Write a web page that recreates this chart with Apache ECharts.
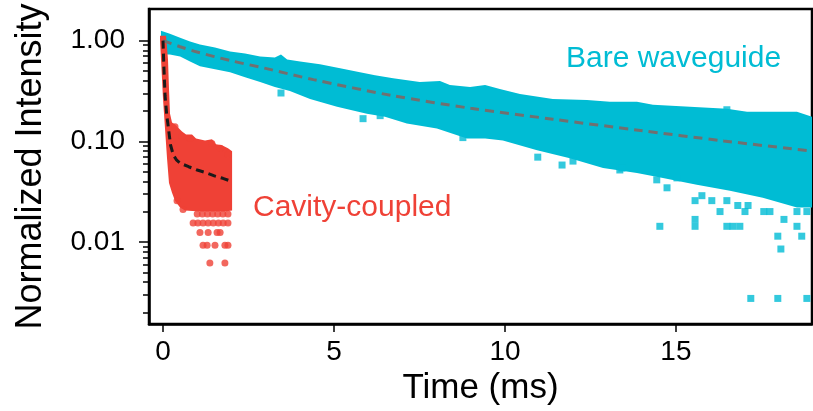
<!DOCTYPE html>
<html>
<head>
<meta charset="utf-8">
<script src="https://cdn.jsdelivr.net/npm/echarts@6/dist/echarts.min.js"></script>
<style>
  html, body { margin: 0; padding: 0; background: #fff; }
  #chart { width: 813px; height: 411px; }
</style>
</head>
<body>
<div id="chart"></div>
<script>
// time in ms, intensity normalized
const xTicks = [0, 5, 10, 15];
const yTicks = [0.01, 0.1, 1];
const yMinorTicks = [0.002, 0.003, 0.004, 0.005, 0.006, 0.007, 0.008, 0.009,
  0.02, 0.03, 0.04, 0.05, 0.06, 0.07, 0.08, 0.09,
  0.2, 0.3, 0.4, 0.5, 0.6, 0.7, 0.8, 0.9];

// bare waveguide: outline of the dense cloud of points
const bareUpper = [[-0.06, 1.25], [0.2, 1.17], [0.5, 1.07], [0.79, 0.978], [1.08, 0.914], [1.52, 0.854],
  [1.96, 0.78], [2.4, 0.746], [2.84, 0.697], [3.27, 0.681], [3.45, 0.729], [3.63, 0.651], [4.01, 0.622],
  [4.59, 0.582], [5.18, 0.531], [5.76, 0.486], [6.2, 0.454], [6.73, 0.424], [7.51, 0.388], [8.1, 0.397],
  [8.39, 0.362], [8.98, 0.346], [9.42, 0.362], [9.85, 0.331], [10.44, 0.296], [11.4, 0.264], [12.4, 0.258],
  [13.07, 0.247], [13.86, 0.247], [14.33, 0.231], [15.41, 0.22], [16.49, 0.211], [17.08, 0.197],
  [18.54, 0.197], [18.98, 0.176]];
const bareLower = [[-0.06, 0.729], [0.2, 0.729], [0.5, 0.697], [0.79, 0.622], [1.08, 0.556], [1.52, 0.52],
  [1.96, 0.486], [2.4, 0.434], [2.84, 0.388], [3.27, 0.346], [3.71, 0.316], [4.3, 0.264], [5.09, 0.22],
  [5.96, 0.188], [6.49, 0.176], [7.13, 0.15], [8.01, 0.134], [8.89, 0.107], [9.42, 0.107], [9.94, 0.102],
  [10.94, 0.0816], [11.9, 0.0681], [12.87, 0.0543], [13.86, 0.0486], [14.62, 0.0434], [15.61, 0.037],
  [16.58, 0.0323], [17.54, 0.0276], [18.54, 0.022], [18.98, 0.022]];
// bare waveguide: isolated points
const bareOutliers = [[3.45, 0.302], [5.85, 0.168], [6.35, 0.18], [8.77, 0.109], [10.96, 0.0697],
  [11.67, 0.0582], [11.99, 0.0637], [13.36, 0.052], [13.42, 0.0543], [14.44, 0.0415], [15.03, 0.0434],
  [14.53, 0.01435], [14.74, 0.0346], [15.56, 0.01435], [15.56, 0.0168], [15.56, 0.0258], [15.76, 0.0289],
  [16.05, 0.0258], [16.29, 0.0201], [16.49, 0.01435], [16.67, 0.01435], [16.87, 0.01435], [16.49, 0.0258],
  [17.02, 0.0201], [16.81, 0.0231], [17.11, 0.0231], [17.98, 0.01145], [18.07, 0.00854], [18.68, 0.01145],
  [18.54, 0.01435], [18.16, 0.0168], [17.57, 0.0201], [17.75, 0.0201], [18.54, 0.0201], [18.83, 0.0201],
  [17.19, 0.00276], [17.98, 0.00276], [18.83, 0.00276], [16.49, 0.206]];
const bareFit = [[0, 1.0], [0.5, 0.87], [1, 0.77], [2, 0.63], [3, 0.53], [4.4, 0.41], [6.7, 0.285],
  [9, 0.213], [11.4, 0.166], [13.9, 0.129], [16.4, 0.101], [18.98, 0.08]];

// cavity-coupled: outline of the dense cloud of points
const cavityOutline = [[-0.088, 1.12], [0.088, 1.12], [0.146, 0.651], [0.175, 0.331], [0.205, 0.188],
  [0.263, 0.154], [0.351, 0.147], [0.556, 0.125], [0.673, 0.117], [0.848, 0.117], [0.965, 0.107],
  [1.228, 0.102], [1.433, 0.105], [1.55, 0.0935], [1.725, 0.0914], [1.9, 0.0853], [2.02, 0.0798],
  [2.02, 0.0206], [1.81, 0.0201], [1.08, 0.0201], [0.643, 0.0206], [0.497, 0.022], [0.351, 0.0258],
  [0.263, 0.0309], [0.175, 0.0387], [0.117, 0.0681], [0.058, 0.134], [0, 0.264], [-0.058, 0.651],
  [-0.088, 1.02]];
const cavityPoints = [[0.35, 0.14], [0.556, 0.112], [0.79, 0.107], [1.43, 0.0955], [1.67, 0.0853],
  [1.9, 0.0746], [0.41, 0.0258], [0.585, 0.0211],
  [1.0, 0.019], [1.15, 0.019], [1.3, 0.019], [1.45, 0.019], [1.6, 0.019], [1.75, 0.019], [1.9, 0.019],
  [0.88, 0.0155], [1.02, 0.0155], [1.17, 0.0155], [1.32, 0.0155], [1.47, 0.0155], [1.62, 0.0155],
  [1.76, 0.0155], [1.9, 0.0155],
  [1.08, 0.01245], [1.32, 0.01245], [1.58, 0.01245], [1.67, 0.01245],
  [1.17, 0.00929], [1.29, 0.00929], [1.52, 0.00929], [1.81, 0.00929], [1.9, 0.00929],
  [1.37, 0.00622], [1.81, 0.00622]];
const cavityFit = [[0, 1.0], [0.02, 0.61], [0.04, 0.415], [0.06, 0.284], [0.11, 0.181], [0.16, 0.134],
  [0.22, 0.092], [0.3, 0.0734], [0.4, 0.065], [0.5, 0.0608], [0.75, 0.056], [1.0, 0.052], [1.25, 0.049],
  [1.5, 0.0454], [1.75, 0.043], [1.96, 0.0405]];

const CYAN = '#00bcd4';
const RED = '#ef4136';
const FONT = 'Liberation Sans, Arial, sans-serif';

const lg = (arr) => arr.map(p => [p[0], Math.log10(p[1])]);

const polygonSeries = (pts, color) => {
  const data = lg(pts);
  return {
    type: 'custom',
    silent: true,
    clip: true,
    data: data,
    renderItem: (params, api) => {
      if (params.dataIndex !== 0) return null;
      return {
        type: 'polygon',
        shape: { points: data.map(p => api.coord(p)) },
        style: { fill: color }
      };
    }
  };
};

const chart = echarts.init(document.getElementById('chart'));

const yExtent = [Math.log10(0.001535), Math.log10(2.06)];

chart.setOption({
  animation: false,
  backgroundColor: '#fff',
  grid: {
    left: 149, right: 1, top: 9, bottom: 83,
    show: true, borderColor: '#000', borderWidth: 2.5
  },
  xAxis: {
    type: 'value',
    min: -0.41,
    max: 18.98,
    name: 'Time (ms)',
    nameLocation: 'middle',
    nameGap: 46,
    nameTextStyle: { fontFamily: FONT, fontSize: 35, color: '#000' },
    axisLine: { onZero: false, lineStyle: { color: '#000', width: 2.5 } },
    axisTick: { customValues: xTicks, length: 8, lineStyle: { color: '#000', width: 1.5 } },
    axisLabel: { customValues: xTicks, margin: 14, fontFamily: FONT, fontSize: 28, color: '#000' },
    splitLine: { show: false }
  },
  yAxis: [
    {
      type: 'value',
      min: yExtent[0],
      max: yExtent[1],
      name: 'Normalized Intensity',
      nameLocation: 'middle',
      nameGap: 100,
      nameTextStyle: { fontFamily: FONT, fontSize: 36, color: '#000' },
      axisLine: { onZero: false, lineStyle: { color: '#000', width: 2.5 } },
      axisTick: { customValues: yTicks.map(Math.log10), length: 10, lineStyle: { color: '#000', width: 1.5 } },
      axisLabel: {
        customValues: yTicks.map(Math.log10),
        margin: 24,
        fontFamily: FONT, fontSize: 28, color: '#000',
        formatter: (v) => Math.pow(10, v).toFixed(2)
      },
      splitLine: { show: false }
    },
    {
      type: 'value',
      position: 'left',
      min: yExtent[0],
      max: yExtent[1],
      axisLine: { show: false, onZero: false },
      axisTick: { customValues: yMinorTicks.map(Math.log10), length: 6, lineStyle: { color: '#000', width: 1.5 } },
      axisLabel: { show: false },
      splitLine: { show: false }
    }
  ],
  series: [
    polygonSeries(bareUpper.concat(bareLower.slice().reverse()), CYAN),
    {
      type: 'scatter',
      data: lg(bareOutliers),
      symbol: 'rect',
      symbolSize: 7,
      itemStyle: { color: CYAN },
      silent: true
    },
    polygonSeries(cavityOutline, RED),
    {
      type: 'scatter',
      data: lg(cavityPoints),
      symbol: 'circle',
      symbolSize: 7,
      itemStyle: { color: RED },
      silent: true
    },
    {
      type: 'line',
      data: lg(bareFit),
      smooth: 0.3,
      showSymbol: false,
      lineStyle: { color: '#707070', width: 3, type: [9, 6] },
      silent: true
    },
    {
      type: 'line',
      data: lg(cavityFit),
      showSymbol: false,
      lineStyle: { color: '#1a1a1a', width: 3, type: [8, 5] },
      silent: true
    }
  ],
  graphic: [
    {
      type: 'text', left: 566, top: 44,
      style: { text: 'Bare waveguide', font: '30px ' + FONT, fill: CYAN }
    },
    {
      type: 'text', left: 253, top: 193,
      style: { text: 'Cavity-coupled', font: '30px ' + FONT, fill: RED }
    }
  ]
});
</script>
</body>
</html>
